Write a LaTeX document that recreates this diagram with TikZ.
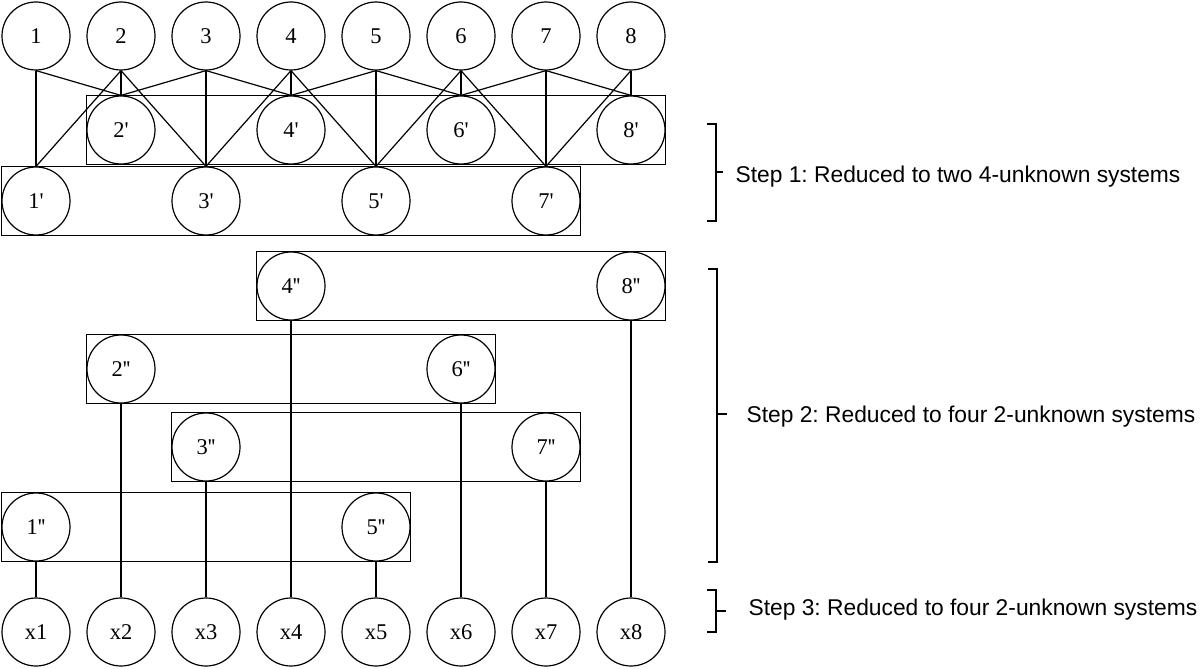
\documentclass[tikz,border=0pt]{standalone}
\usepackage{fontspec}
\newfontfamily\stepfont{Liberation Sans}
\newfontfamily\nodefont{Liberation Serif}
\usetikzlibrary{fit,calc}
\frenchspacing
\begin{document}
\begin{tikzpicture}[x=1pt,y=-1pt,line width=1.2pt,
  cnode/.style={circle,draw,minimum size=68pt,inner sep=0pt,font=\nodefont\fontsize{22.5}{26}\selectfont},
  grp/.style={draw,inner sep=0pt,fit=#1},
  bracket/.style={line width=1.2pt},
  steptext/.style={anchor=base west,inner sep=0pt,font=\stepfont\fontsize{22.8}{27}\selectfont}]
\useasboundingbox (0,0) rectangle (1200,669);
% top row
\foreach \i in {1,...,8} \node[cnode] (t\i) at ({36+85*(\i-1)},36) {\i};
% step 1 rows
\foreach \i in {2,4,6,8} \node[cnode] (p\i) at ({36+85*(\i-1)},130) {\i\textquotesingle};
\foreach \i in {1,3,5,7} \node[cnode] (p\i) at ({36+85*(\i-1)},201) {\i\textquotesingle};
\node[grp={(p2)(p8)}] (boxA) {};
\node[grp={(p1)(p7)}] (boxB) {};
\foreach \a/\b in {1/1,1/2,2/1,2/2,2/3,3/2,3/3,3/4,4/3,4/4,4/5,5/4,5/5,5/6,6/5,6/6,6/7,7/6,7/7,7/8,8/7,8/8}
  \draw (t\a.south) -- (p\b.north);
% step 2 rows
\foreach \i/\y in {4/286,8/286,2/369,6/369,3/447,7/447,1/527,5/527}
  \node[cnode] (q\i) at ({36+85*(\i-1)},\y) {\i\textquotesingle\kern-0.02em\textquotesingle};
\node[grp={(q4)(q8)}] (boxC) {};
\node[grp={(q2)(q6)}] (boxD) {};
\node[grp={(q3)(q7)}] (boxE) {};
\node[grp={(q1)(q5)}] (boxF) {};
% bottom row
\foreach \i in {1,...,8} \node[cnode] (x\i) at ({36+85*(\i-1)},632) {x\i};
\foreach \i in {1,...,8} \draw (q\i.south) -- (x\i.north);
% brackets
\coordinate (b1t) at (716,124); \coordinate (b1b) at (716,221); \coordinate (b1m) at (716,172);
\draw[bracket] ($(b1t)+(-9,0)$) -- (b1t) -- (b1b) -- ($(b1b)+(-9,0)$);
\draw[bracket] (b1m) -- ++(7,0);
\node[steptext] (s1) at (735,182.7) {Step 1: Reduced to two 4-unknown systems};
\coordinate (b2t) at (717,269); \coordinate (b2b) at (717,562); \coordinate (b2m) at (717,414);
\draw[bracket] ($(b2t)+(-9,0)$) -- (b2t) -- (b2b) -- ($(b2b)+(-9,0)$);
\draw[bracket] (b2m) -- ++(10,0);
\node[steptext] (s2) at (746,422) {Step 2: Reduced to four 2-unknown systems};
\coordinate (b3t) at (716,590); \coordinate (b3b) at (716,632); \coordinate (b3m) at (716,611);
\draw[bracket] ($(b3t)+(-9,0)$) -- (b3t) -- (b3b) -- ($(b3b)+(-9,0)$);
\draw[bracket] (b3m) -- ++(10,0);
\node[steptext] (s3) at (748,615.7) {Step 3: Reduced to four 2-unknown systems};
\end{tikzpicture}
\end{document}
